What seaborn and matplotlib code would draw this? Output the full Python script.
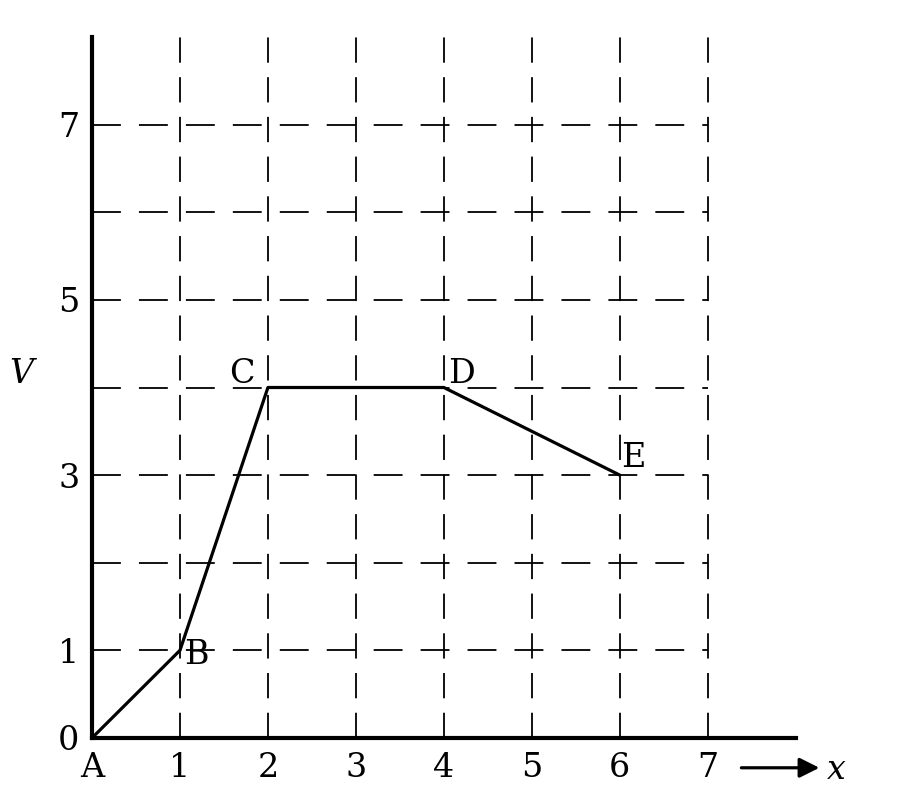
import pandas as pd
import seaborn as sns
from matplotlib import pyplot as plt

# points of the graph
point_names = ["A", "B", "C", "D", "E"]
x_vals = [0, 1, 2, 4, 6]
v_vals = [0, 1, 4, 4, 3]

x_ticks = [0, 1, 2, 3, 4, 5, 6, 7]
x_tick_labels = ["A", "1", "2", "3", "4", "5", "6", "7"]
y_ticks = [0, 1, 3, 5, 7]
y_tick_labels = ["0", "1", "3", "5", "7"]
grid_vals = [1, 2, 3, 4, 5, 6, 7]

sns.set_style("white")
plt.rcParams['font.family'] = ['DejaVu Serif']
plt.rcParams['text.color'] = 'black'

df = pd.DataFrame({'x': x_vals, 'V': v_vals, 'name': point_names})

fig = plt.figure(figsize=(9, 8.1), dpi=100)
ax = fig.add_axes([0.1022, 0.0889, 0.782, 0.8654])

# dashed grid
for g in grid_vals:
    ax.axvline(g, ymin=0, ymax=1, color='black', lw=1.3, ls=(0, (14, 8)), zorder=1)
    ax.axhline(g, xmin=0, xmax=7 / 8, color='black', lw=1.3, ls=(0, (16, 10)), zorder=1)

sns.lineplot(data=df, x='x', y='V', color='black', lw=2.3, sort=False, ax=ax, zorder=3)

ax.set_xlim(0, 8)
ax.set_ylim(0, 8)
ax.set_xticks(x_ticks)
ax.set_xticklabels(x_tick_labels, fontsize=24)
ax.set_yticks(y_ticks)
ax.set_yticklabels(y_tick_labels, fontsize=24)
ax.tick_params(axis='x', length=0, pad=10, labelcolor='black')
ax.tick_params(axis='y', length=0, pad=9, labelcolor='black')
ax.set_xlabel("")
ax.set_ylabel("")

for s in ["top", "right"]:
    ax.spines[s].set_visible(False)
for s in ["left", "bottom"]:
    ax.spines[s].set_color('black')
    ax.spines[s].set_linewidth(3)

# point labels
lab = dict(fontsize=24, color='black', va='center')
ax.text(1.05, 0.95, "B", ha='left', **lab)
ax.text(1.85, 4.15, "C", ha='right', **lab)
ax.text(4.05, 4.15, "D", ha='left', **lab)
ax.text(6.02, 3.2, "E", ha='left', **lab)

ax.text(-0.8, 4.15, "V", fontsize=24, style='italic', color='black', ha='center', va='center')
ax.annotate("", xy=(8.3, -0.34), xytext=(7.35, -0.34), xycoords='data',
            arrowprops=dict(arrowstyle='-|>', color='black', lw=2.3, mutation_scale=30),
            annotation_clip=False)
ax.text(8.35, -0.36, "x", fontsize=24, style='italic', color='black', ha='left', va='center')

plt.savefig("out.png", dpi=100)
plt.close(fig)
